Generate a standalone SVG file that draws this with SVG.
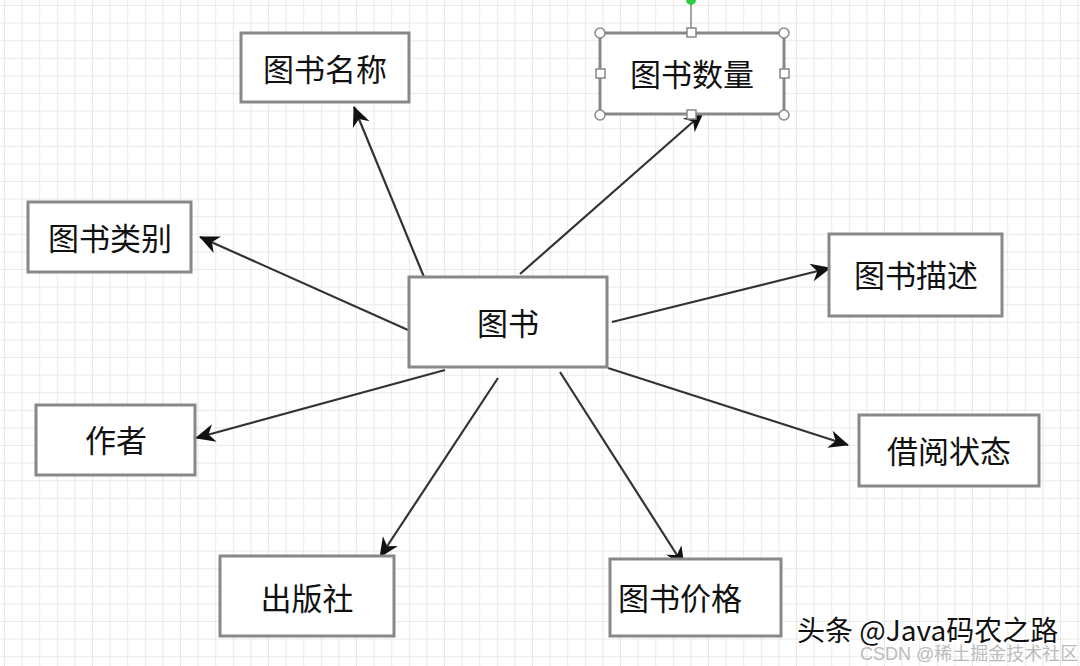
<svg xmlns="http://www.w3.org/2000/svg" width="1080" height="666" viewBox="0 0 1080 666">
<defs>
<pattern id="grid" width="17.6" height="17.6" patternUnits="userSpaceOnUse" x="5" y="6">
<path d="M17.6 0V17.6M0 17.6H17.6" fill="none" stroke="#e4e4e4" stroke-width="1.6"/>
</pattern>
<marker id="arr" viewBox="0 0 24 24" refX="21" refY="12" markerWidth="24" markerHeight="24" markerUnits="userSpaceOnUse" orient="auto">
<path d="M2 3 L22 12 L2 21 L8 12 Z" fill="#111"/>
</marker>
<style>
.box{fill:#fff;stroke:#888;stroke-width:3}
.t{font-family:"Noto Sans CJK SC","Noto Sans",sans-serif;font-size:31px;fill:#111;text-anchor:middle;dominant-baseline:central}
.c{stroke:#333;stroke-width:2.2;fill:none;marker-end:url(#arr)}
.h{fill:#fff;stroke:#888;stroke-width:1.5}
</style>
</defs>
<rect width="1080" height="666" fill="#fff"/>
<rect width="1080" height="666" fill="url(#grid)"/>
<g id="connectors">
<line class="c" x1="424" y1="277" x2="354" y2="107"/>
<line class="c" x1="520" y1="274" x2="703" y2="113"/>
<line class="c" x1="408" y1="330" x2="200" y2="237"/>
<line class="c" x1="612" y1="322" x2="830" y2="268"/>
<line class="c" x1="445" y1="370" x2="196" y2="438"/>
<line class="c" x1="608" y1="368" x2="848" y2="445"/>
<line class="c" x1="498" y1="378" x2="380" y2="557"/>
<line class="c" x1="560" y1="372" x2="684" y2="566"/>
</g>
<g id="n-center"><rect class="box" x="409" y="277" width="198" height="90"/><text class="t" x="508" y="321">图书</text></g>
<g id="n-name"><rect class="box" x="241" y="33" width="168" height="69"/><text class="t" x="325" y="67">图书名称</text></g>
<g id="n-count">
<line x1="691" y1="0" x2="691" y2="32" stroke="#888" stroke-width="1.5"/>
<circle cx="691" cy="0" r="5" fill="#2ecc40"/>
<rect class="box" x="600" y="33" width="184" height="81"/>
<text class="t" x="692" y="72">图书数量</text>
<circle class="h" cx="600" cy="33" r="5"/><circle class="h" cx="784" cy="33" r="5"/>
<circle class="h" cx="600" cy="115" r="5"/><circle class="h" cx="784" cy="115" r="5"/>
<rect class="h" x="687" y="28" width="9" height="9"/><rect class="h" x="687" y="110" width="9" height="9"/>
<rect class="h" x="596" y="69" width="9" height="9"/><rect class="h" x="780" y="69" width="9" height="9"/>
</g>
<g id="n-category"><rect class="box" x="28" y="202" width="163" height="70"/><text class="t" x="110" y="236">图书类别</text></g>
<g id="n-desc"><rect class="box" x="829" y="234" width="173" height="82"/><text class="t" x="916" y="273">图书描述</text></g>
<g id="n-author"><rect class="box" x="36" y="405" width="159" height="70"/><text class="t" x="116" y="438">作者</text></g>
<g id="n-status"><rect class="box" x="859" y="415" width="180" height="71"/><text class="t" x="949" y="449">借阅状态</text></g>
<g id="n-press"><rect class="box" x="220" y="556" width="174" height="80"/><text class="t" x="307" y="596">出版社</text></g>
<g id="n-price"><rect class="box" x="610" y="559" width="171" height="77"/><text class="t" x="680" y="596">图书价格</text></g>
<g id="watermark">
<text x="860" y="660" font-family="'Liberation Sans','Noto Sans CJK SC',sans-serif" font-size="18" fill="#bbb">CSDN @稀土掘金技术社区</text>
<text x="797" y="641" font-family="'Noto Sans CJK SC',sans-serif" font-size="28" fill="#111" stroke="#fff" stroke-width="3" paint-order="stroke">头条 @Java码农之路</text>
</g>
</svg>
